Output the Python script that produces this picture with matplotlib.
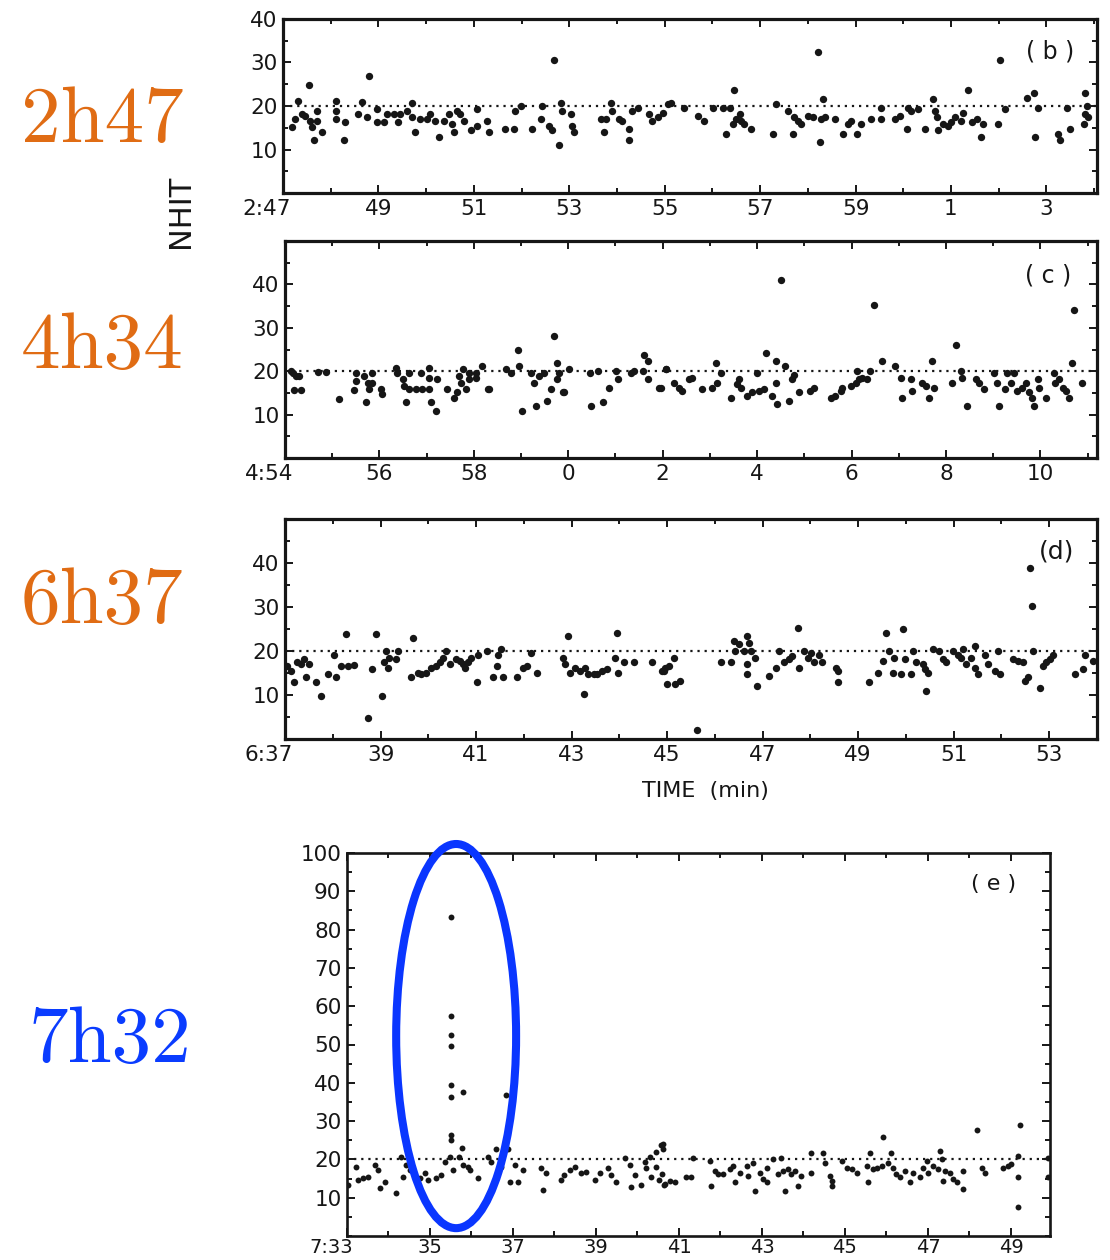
import matplotlib
matplotlib.use('Agg')
import matplotlib.pyplot as plt
from matplotlib.patches import Ellipse
from matplotlib.ticker import MultipleLocator
from matplotlib.transforms import ScaledTranslation
import numpy as np

# ---------------- data (time in minutes, NHIT) ----------------
run_labels = ["2h47", "4h34", "6h37", "7h32"]
panel_tags = ["( b )", "( c )", "(d)", "( e )"]
threshold = 20

b_xticks = [47, 49, 51, 53, 55, 57, 59, 61, 63]
b_xlabels = ["2:47", "49", "51", "53", "55", "57", "59", "1", "3"]
c_xticks = [54, 56, 58, 60, 62, 64, 66, 68, 70]
c_xlabels = ["4:54", "56", "58", "0", "2", "4", "6", "8", "10"]
d_xticks = [37, 39, 41, 43, 45, 47, 49, 51, 53]
d_xlabels = ["6:37", "39", "41", "43", "45", "47", "49", "51", "53"]
e_xticks = [33, 35, 37, 39, 41, 43, 45, 47, 49]
e_xlabels = ["7:33", "35", "37", "39", "41", "43", "45", "47", "49"]

b_points = np.array([
    (47.18,15.1),(47.25,17.0),(47.32,21.1),(47.39,18.1),(47.46,17.8),(47.55,24.9),(47.57,16.6),(47.60,15.1),
    (47.64,12.1),(47.72,18.9),(47.72,16.6),(47.81,14.0),(48.11,21.1),(48.11,18.9),(48.11,17.0),(48.27,12.1),
    (48.30,16.3),(48.57,18.1),(48.65,21.0),(48.81,26.9),(48.77,17.4),(48.97,19.3),(48.97,16.3),(49.11,16.3),
    (49.18,18.1),(49.32,18.1),(49.42,16.3),(49.46,18.1),(49.60,18.9),(49.70,20.7),(49.70,17.4),(49.77,14.0),
    (49.88,17.0),(50.02,17.0),(50.09,18.1),(50.19,16.6),(50.26,12.9),(50.37,16.6),(50.47,18.1),(50.54,15.9),
    (50.58,14.0),(50.65,18.9),(50.72,18.1),(50.79,16.6),(50.93,14.4),(51.07,15.5),(51.07,19.3),(51.28,16.6),
    (51.31,14.0),(51.66,14.8),(51.84,14.8),(51.87,18.9),(51.98,20.0),(52.22,14.8),(52.40,17.0),(52.43,20.0),
    (52.57,15.5),(52.64,14.4),(52.68,30.6),(52.78,11.0),(52.82,20.7),(52.85,18.9),(53.03,18.1),(53.06,15.5),
    (53.10,14.0),(53.66,17.0),(53.76,17.0),(53.73,14.0),(53.87,20.7),(53.90,18.9),(54.04,17.0),(54.11,16.6),
    (54.25,14.8),(54.25,12.1),(54.32,18.9),(54.43,19.6),(54.67,18.1),(54.74,16.6),(54.85,17.4),(55.06,20.4),
    (54.96,18.5),(55.13,20.7),(55.41,19.6),(55.69,17.8),(55.83,16.6),(56.01,19.6),(56.22,19.6),(56.29,13.6),
    (56.36,19.6),(56.43,15.9),(56.46,23.6),(56.50,17.0),(56.57,18.1),(56.60,16.6),(56.67,15.9),(56.81,14.8),
    (57.27,13.6),(57.34,20.5),(57.58,18.9),(57.69,13.6),(57.72,17.4),(57.79,16.6),(57.86,15.9),(58.00,17.8),
    (58.11,17.4),(58.21,32.4),(58.25,11.8),(58.28,17.0),(58.32,21.5),(58.35,17.4),(58.56,17.0),(58.74,13.6),
    (58.84,15.9),(58.91,16.6),(59.02,13.6),(59.12,15.9),(59.33,17.0),(59.54,17.0),(59.54,19.6),(59.82,17.0),
    (59.93,17.8),(60.07,14.8),(60.10,19.6),(60.17,18.9),(60.31,19.3),(60.45,14.8),(60.63,21.5),(60.66,18.9),
    (60.70,17.4),(60.73,14.4),(60.84,15.9),(60.94,15.5),(61.01,16.3),(61.08,17.4),(61.22,16.6),(61.26,18.5),
    (61.36,23.6),(61.43,16.3),(61.54,17.0),(61.63,12.9),(61.68,15.9),(61.99,15.9),(62.03,30.6),(62.13,19.3),
    (62.59,21.9),(62.73,23.0),(62.76,12.9),(62.83,19.6),(63.25,13.6),(63.29,12.1),(63.43,19.6),(63.50,14.8),
    (63.78,15.9),(63.81,23.0),(63.81,18.1),(63.85,20.0),(63.88,17.4),
])

c_points = np.array([
    (54.12,20.0),(54.16,19.6),(54.23,18.9),(54.30,18.9),(54.19,15.7),(54.33,15.7),(54.69,19.8),(54.86,19.8),
    (55.14,13.7),(55.50,19.6),(55.50,17.7),(55.46,15.7),(55.71,12.8),(55.67,18.9),(55.75,17.3),(55.78,15.8),
    (55.85,19.6),(55.85,17.3),(56.03,15.8),(56.06,14.7),(56.35,20.8),(56.38,19.6),(56.49,18.1),(56.52,16.6),
    (56.56,12.8),(56.63,19.6),(56.63,15.8),(56.77,15.8),(56.88,19.6),(56.91,15.8),(57.05,20.8),(57.05,18.5),
    (57.05,15.8),(57.09,12.8),(57.19,10.9),(57.23,18.1),(57.44,15.8),(57.58,13.8),(57.65,15.1),(57.69,18.9),
    (57.72,17.3),(57.76,20.4),(57.83,15.8),(57.90,18.1),(57.90,19.6),(58.04,18.5),(58.04,19.6),(58.18,21.1),
    (58.29,15.8),(58.33,15.8),(58.68,20.4),(58.78,19.6),(58.93,24.9),(58.96,21.1),(59.03,10.9),(59.21,19.6),
    (59.28,17.3),(59.31,12.0),(59.39,18.9),(59.49,19.6),(59.56,13.2),(59.63,15.8),(59.70,28.0),(59.77,21.9),
    (59.77,18.1),(59.81,19.6),(59.88,15.1),(59.92,15.1),(60.02,20.4),(60.45,19.6),(60.48,12.0),(60.62,20.0),
    (60.73,13.0),(60.87,16.2),(61.01,20.0),(61.05,18.1),(61.33,19.6),(61.40,20.0),(61.58,20.0),(61.61,23.8),
    (61.68,22.3),(61.68,18.1),(61.93,16.2),(62.07,20.4),
    (61.96,16.2),(62.06,20.4),(62.24,17.3),(62.34,16.2),(62.41,15.4),(62.56,18.1),(62.63,18.5),(62.84,16.0),
    (63.05,16.2),(63.12,22.0),(63.16,17.3),(63.23,19.6),(63.44,13.9),(63.58,17.0),(63.61,18.1),(63.65,16.2),
    (63.79,14.3),(63.90,15.1),(64.00,19.6),(64.04,15.4),(64.14,15.8),(64.18,24.2),(64.32,14.3),(64.39,22.3),
    (64.39,17.3),(64.43,12.4),(64.50,40.9),(64.60,21.1),(64.67,13.2),(64.74,18.1),(64.78,19.2),(64.89,15.1),
    (65.13,15.4),(65.20,16.2),(65.56,13.9),(65.66,14.3),(65.77,15.4),(65.80,16.2),(65.98,16.6),(66.09,17.3),
    (66.12,20.0),(66.16,18.1),(66.23,18.5),(66.33,18.1),(66.40,20.0),(66.47,35.2),(66.65,22.3),(66.93,21.1),
    (67.04,18.5),(67.08,13.9),(67.25,18.1),(67.29,15.4),(67.50,17.3),(67.57,16.6),(67.64,13.9),(67.71,22.3),
    (67.75,16.2),(68.13,17.3),(68.21,26.1),(68.31,20.0),(68.35,18.5),(68.45,12.0),(68.63,18.1),(68.70,17.3),
    (68.81,15.8),(69.02,19.6),(69.09,17.3),(69.12,12.0),(69.26,15.8),(69.30,19.6),(69.37,17.3),(69.44,19.6),
    (69.51,15.4),(69.62,16.2),(69.69,17.3),(69.76,15.1),(69.83,13.9),(69.86,12.0),(69.94,18.1),(69.97,16.2),
    (70.11,13.9),(70.29,19.6),(70.32,17.3),(70.39,18.1),(70.47,16.2),(70.54,15.4),(70.61,13.9),(70.68,22.0),
    (70.71,34.0),(70.89,17.3),
])

d_points = np.array([
    (37.05,16.6),(37.12,15.5),(37.19,12.9),(37.26,17.4),(37.33,17.0),(37.40,18.1),(37.50,17.0),(37.43,14.0),
    (37.64,12.9),(37.75,9.8),(37.89,14.7),(38.03,19.2),(38.06,14.0),(38.17,16.6),(38.27,23.9),(38.31,16.6),
    (38.45,16.8),(38.73,4.8),(38.83,15.9),(38.90,23.9),(39.04,9.8),(39.08,17.4),(39.11,20.0),(39.15,16.2),
    (39.18,18.5),(39.32,18.1),(39.36,20.0),(39.64,14.0),(39.68,23.0),(39.78,15.1),(39.85,14.7),(39.96,15.1),
    (40.06,16.2),(40.17,16.6),(40.24,17.4),(40.31,18.5),(40.38,20.0),(40.45,17.0),(40.59,18.1),(40.66,17.7),
    (40.73,17.0),(40.76,16.2),(40.83,17.4),(40.90,18.5),(41.01,12.9),(41.04,19.2),(41.22,20.0),(41.36,14.0),
    (41.43,16.6),(41.46,19.2),(41.53,20.4),(41.57,14.0),(41.85,14.0),(41.99,16.2),(42.06,16.6),(42.16,19.6),
    (42.27,15.1),(42.93,23.4),(42.83,18.5),(42.86,17.0),(42.97,15.1),(43.07,16.2),(43.18,15.5),(43.25,10.2),
    (43.28,16.2),(43.35,14.7),(43.46,14.7),(43.53,14.7),(43.63,15.5),(43.74,15.9),(43.91,18.5),(43.95,24.1),
    (43.98,15.1),(44.09,17.4),(44.30,17.4),(44.68,17.4),(44.93,15.5),(45.00,12.5),
    (44.89,15.5),(44.96,16.2),(45.03,16.6),(45.14,18.5),(45.17,12.5),(45.28,13.2),(45.63,2.1),(46.12,17.4),
    (46.33,17.4),(46.40,22.3),(46.43,20.0),(46.50,21.5),(46.61,20.0),(46.68,23.4),(46.68,17.0),(46.68,14.7),
    (46.71,21.9),(46.75,20.0),(46.85,18.5),(46.89,12.1),(47.13,14.4),(47.27,16.2),(47.34,20.0),(47.45,17.4),
    (47.55,18.1),(47.62,18.9),(47.73,25.3),(47.76,16.2),(47.87,20.0),(47.94,18.5),(48.01,19.6),(48.08,17.4),
    (48.18,19.2),(48.25,17.4),(48.53,16.2),(48.57,15.5),(48.57,12.9),(49.23,12.9),(49.41,15.1),(49.51,17.7),
    (49.58,24.1),(49.65,20.0),(49.72,15.1),(49.76,18.5),(49.93,24.9),(49.90,14.7),(49.97,18.1),(50.11,14.7),
    (50.14,20.0),(50.21,17.4),(50.35,17.0),(50.39,15.9),(50.42,11.0),(50.46,15.1),(50.56,20.4),(50.70,20.0),
    (50.77,18.1),(50.84,17.4),(50.98,20.0),(51.09,19.2),(51.16,18.5),(51.19,20.4),(51.26,17.0),(51.37,18.5),
    (51.44,21.1),(51.44,16.2),(51.51,14.7),(51.65,19.2),(51.72,17.0),(51.86,15.5),(51.93,20.0),(51.96,14.7),
    (52.24,18.1),(52.35,17.7),(52.45,17.4),(52.49,13.2),(52.56,14.0),(52.59,38.9),(52.63,30.2),(52.66,20.0),
    (52.80,11.7),(52.87,16.6),(52.94,17.4),(53.01,18.1),(53.08,19.2),(53.54,14.7),(53.71,15.9),(53.75,19.2),
    (53.92,17.7),
])

e_points = np.array([
    (35.51,83.3),(35.51,57.4),(35.51,52.5),(35.51,49.6),(35.51,39.3),(35.51,36.2),(35.80,37.5),(35.51,26.3),
    (35.51,25.0),(35.76,23.1),(36.82,36.7),
    (33.02,13.4),(33.22,18.1),(33.27,14.6),(33.39,15.1),(33.51,15.5),(33.67,18.5),(33.75,17.2),(33.79,12.5),
    (33.91,14.2),(34.19,11.2),(34.31,20.7),(34.35,15.5),(34.43,18.5),(34.51,17.2),(34.59,17.2),(34.75,15.1),
    (34.87,16.4),(34.95,14.6),(35.15,15.1),(35.27,15.9),(35.35,19.4),(35.47,20.7),(35.55,17.2),(35.71,20.7),
    (35.80,18.5),(35.92,18.1),(35.96,17.2),(36.16,15.1),(36.40,20.7),(36.48,19.4),(36.60,22.8),(36.72,18.1),
    (36.88,22.8),(36.92,14.2),(37.04,18.5),(37.12,14.2),(37.24,17.2),(37.68,17.7),(37.72,12.1),(37.80,16.4),
    (38.16,14.6),(38.24,15.9),(38.37,17.2),(38.49,18.1),(38.65,16.4),(38.77,16.8),(38.97,14.6),(39.09,16.4),
    (39.29,17.7),(39.37,15.9),(39.49,14.2),(39.69,20.3),(39.81,18.5),(39.85,12.9),(39.93,15.9),(40.09,13.4),
    (40.17,19.4),(40.21,17.7),(40.29,20.7),(40.33,15.5),(40.45,22.0),(40.45,18.1),(40.53,14.6),(40.57,23.7),
    (40.65,13.4),
    (40.62,23.9),(40.62,22.6),(40.58,16.1),(40.66,13.5),(40.78,14.4),(40.90,14.0),(41.18,15.3),(41.30,15.3),
    (41.34,20.4),(41.74,19.6),(41.78,13.1),(41.87,17.0),(41.95,16.1),(42.07,16.1),(42.23,17.4),(42.31,18.3),
    (42.35,14.0),(42.47,16.5),(42.63,18.3),(42.67,15.7),(42.79,19.1),(42.83,11.8),(42.95,16.5),(43.03,14.8),
    (43.11,14.0),(43.11,17.8),(43.27,20.0),(43.39,16.1),(43.47,20.4),(43.51,17.0),(43.55,11.8),(43.63,17.4),
    (43.71,16.1),(43.79,17.0),(43.87,13.1),(43.95,15.7),(44.19,21.7),(44.19,16.5),(44.48,21.7),(44.52,19.1),
    (44.64,15.7),(44.68,14.4),(44.68,13.1),(44.92,19.6),(45.04,17.8),(45.16,17.4),(45.28,16.5),(45.52,18.3),
    (45.56,14.0),(45.60,21.7),(45.68,17.4),(45.76,17.8),(45.92,25.8),(45.88,18.3),(46.04,19.1),(46.12,21.7),
    (46.16,17.8),(46.24,16.1),(46.32,15.3),(46.44,17.0),(46.56,14.0),(46.64,16.5),(46.80,15.3),(46.89,17.8),
    (46.97,19.6),(47.01,16.5),(47.13,18.3),(47.25,17.4),(47.29,22.2),(47.33,20.0),(47.37,14.4),(47.41,17.0),
    (47.53,16.5),(47.61,14.8),(47.69,14.0),(47.85,12.2),(47.85,17.0),(48.17,27.8),(48.29,17.8),(48.37,16.5),
    (48.81,17.8),(48.93,18.3),(49.01,18.7),(49.17,20.9),(49.17,15.3),(49.21,28.9),(49.17,7.5),(49.90,15.3),
    (49.90,20.4),
])

# ---------------- figure ----------------
W, H = 1110, 1260
fig = plt.figure(figsize=(W / 100, H / 100), dpi=100)
INK = '#161616'


def add_ax(l, t, r, b):
    return fig.add_axes([l / W, 1 - b / H, (r - l) / W, (b - t) / H])


panels = [
    dict(box=(283, 19, 1097, 193), pts=b_points, xlim=(47, 64.06), ylim=(0, 40),
         yt=[10, 20, 30, 40], xt=b_xticks, xl=b_xlabels, s=28, lw=2.3, fs=15.5, pad=4),
    dict(box=(285, 241, 1097, 458), pts=c_points, xlim=(54, 71.2), ylim=(0, 50),
         yt=[10, 20, 30, 40], xt=c_xticks, xl=c_xlabels, s=28, lw=2.3, fs=15.5, pad=4),
    dict(box=(285, 519, 1097, 739), pts=d_points, xlim=(37, 54), ylim=(0, 50),
         yt=[10, 20, 30, 40], xt=d_xticks, xl=d_xlabels, s=28, lw=2.3, fs=15.5, pad=4),
    dict(box=(347, 853, 1050, 1236), pts=e_points, xlim=(33, 49.94), ylim=(0, 100),
         yt=list(range(10, 101, 10)), xt=e_xticks, xl=e_xlabels, s=18, lw=1.9, fs=14, pad=1.5),
]

axes = []
for p in panels:
    ax = add_ax(*p['box'])
    ax.set_xlim(*p['xlim'])
    ax.set_ylim(*p['ylim'])
    ax.axhline(threshold, color=INK, lw=1.6, ls=(0, (1, 2.2)), zorder=1)
    ax.scatter(p['pts'][:, 0], p['pts'][:, 1], s=p['s'], c=INK, linewidths=0, zorder=2)
    ax.set_xticks(p['xt'])
    ax.set_xticklabels(p['xl'])
    ax.set_yticks(p['yt'])
    ax.xaxis.set_minor_locator(MultipleLocator(1))
    ax.yaxis.set_minor_locator(MultipleLocator(5))
    ax.tick_params(which='both', direction='in', top=True, right=True,
                   labelsize=p['fs'], width=1.4, colors=INK, labelcolor=INK)
    ax.tick_params(axis='y', pad=4, labelsize=15.5)
    ax.tick_params(axis='x', pad=p['pad'])
    ax.tick_params(which='major', length=6)
    ax.tick_params(which='minor', length=3.5)
    for sp in ax.spines.values():
        sp.set_linewidth(p['lw'])
        sp.set_color(INK)
    lab = ax.get_xticklabels()[0]
    lab.set_transform(lab.get_transform() + ScaledTranslation(-0.16, 0, fig.dpi_scale_trans))
    axes.append(ax)

# highlight ellipse in panel (e)
axes[3].add_patch(Ellipse((35.63, 52.2), 2.89, 100.3, fill=False, ec='#0a36ff',
                          lw=5.8, clip_on=False, zorder=5))


def ftext(x, y, s, **kw):
    fig.text(x / W, 1 - y / H, s, **kw)


# panel tags
ftext(1050, 51, panel_tags[0], fontsize=17, ha='center', va='center', color=INK)
ftext(1048, 275, panel_tags[1], fontsize=17, ha='center', va='center', color=INK)
ftext(1057, 551, panel_tags[2], fontsize=18, ha='center', va='center', color=INK)
ftext(994, 884, panel_tags[3], fontsize=16, ha='center', va='center', color=INK)

# axis titles
ftext(181, 211, "NHIT", fontsize=22, rotation=90, ha='center', va='center', color=INK)
ftext(705, 791, "TIME  (min)", fontsize=16, ha='center', va='center', color=INK)

# run labels
orange = '#e06c14'
blue = '#0a3cff'
ftext(102, 142, run_labels[0], family='cmr10', fontsize=57, color=orange, ha='center', va='baseline')
ftext(102, 368, run_labels[1], family='cmr10', fontsize=57, color=orange, ha='center', va='baseline')
ftext(102, 623, run_labels[2], family='cmr10', fontsize=57, color=orange, ha='center', va='baseline')
ftext(110, 1062, run_labels[3], family='cmr10', fontsize=57, color=blue, ha='center', va='baseline')

fig.savefig('out.png', dpi=100, facecolor='white')
